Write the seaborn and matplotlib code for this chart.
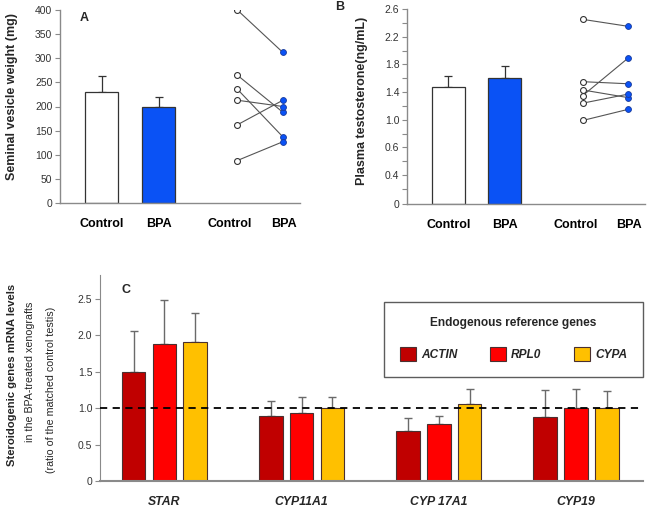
import numpy as np
import pandas as pd
import matplotlib
matplotlib.use("Agg")
import matplotlib.pyplot as plt
from matplotlib.patches import Patch
from matplotlib.ticker import FixedLocator
import seaborn as sns

# ---------------- data ----------------
groups = ["Control", "BPA"]
# Panel A: seminal vesicle weight (mg)
sv_mean = [230, 200]
sv_err = [33, 19]
sv_ctrl = [400, 265, 236, 213, 162, 88]
sv_bpa = [312, 188, 137, 200, 213, 127]
# Panel B: plasma testosterone (ng/mL)
te_mean = [1.47, 1.61]
te_err = [0.16, 0.17]
te_ctrl = [2.45, 1.55, 1.43, 1.35, 1.24, 0.99]
te_bpa = [2.35, 1.52, 1.32, 1.89, 1.37, 1.15]
te_tick_labels = ["0", "0.4", "0.6", "1.0", "1.4", "1.8", "2.2", "2.6"]
# Panel C: steroidogenic genes mRNA ratio
genes = ["STAR", "CYP11A1", "CYP 17A1", "CYP19"]
refs = ["ACTIN", "RPL0", "CYPA"]
c_actin = [1.50, 0.89, 0.69, 0.88]
c_rpl0 = [1.88, 0.93, 0.78, 1.00]
c_cypa = [1.91, 1.00, 1.06, 1.00]
e_actin = [0.56, 0.21, 0.18, 0.37]
e_rpl0 = [0.61, 0.22, 0.11, 0.26]
e_cypa = [0.40, 0.15, 0.20, 0.24]
ref_colors = ["#C00000", "#FF0000", "#FFC000"]
blue = "#0A52F5"

# ---------------- style ----------------
sns.set_style("white")
plt.rcParams["font.family"] = ["Liberation Sans", "DejaVu Sans"]
tick_col = "#333333"
spine_col = "#8a8a8a"

fig = plt.figure(figsize=(6.5, 5.09), dpi=100)
axA = fig.add_axes([60/650, 1-203/509, 240/650, 193/509])
axB = fig.add_axes([407/650, 1-204/509, 238/650, 195/509])
axC = fig.add_axes([100/650, 1-481/509, 543/650, 206/509])

bar_pos = [0.0, 1.0]
pair_pos = [2.38, 3.18]
label_pos = [0.0, 1.0, 2.25, 3.2]


def paired_panel(ax, means, errs, ctrl, bpa):
    dfb = pd.DataFrame({"x": bar_pos, "y": means, "g": groups})
    sns.barplot(data=dfb, x="x", y="y", hue="g", native_scale=True,
                palette={"Control": "white", "BPA": blue}, width=0.58,
                saturation=1, edgecolor="#333333", linewidth=0.9,
                legend=False, ax=ax, errorbar=None, zorder=2)
    ax.errorbar(bar_pos, means, yerr=[np.zeros(len(means)), errs], fmt="none",
                ecolor="#333333", elinewidth=0.9, capsize=3, capthick=0.9,
                zorder=1)
    n = len(ctrl)
    dfp = pd.DataFrame({
        "x": [pair_pos[0]] * n + [pair_pos[1]] * n,
        "y": list(ctrl) + list(bpa),
        "pair": list(range(n)) * 2,
        "g": ["Control"] * n + ["BPA"] * n,
    })
    sns.lineplot(data=dfp, x="x", y="y", units="pair", estimator=None,
                 color="#555555", linewidth=0.8, ax=ax, zorder=3)
    sns.scatterplot(data=dfp[dfp.g == "Control"], x="x", y="y", color="white",
                    edgecolor="#333333", linewidth=0.8, s=18, ax=ax, zorder=4)
    sns.scatterplot(data=dfp[dfp.g == "BPA"], x="x", y="y", color=blue,
                    edgecolor="#1a3a9a", linewidth=0.6, s=18, ax=ax, zorder=4)
    ax.set_xlim(-0.73, 3.48)
    ax.set_xticks(label_pos)
    ax.set_xticklabels(groups + groups, fontsize=9, fontweight="bold",
                       color="black")
    ax.tick_params(axis="x", length=0, pad=11)
    ax.tick_params(axis="y", direction="out", length=3.5, width=0.8,
                   color=spine_col, labelsize=7.5, labelcolor=tick_col, pad=2,
                   left=True)
    ax.tick_params(axis="y", which="minor", direction="out", length=3.5,
                   width=0.8, color=spine_col, left=True)
    for s in ["top", "right"]:
        ax.spines[s].set_visible(False)
    for s in ["left", "bottom"]:
        ax.spines[s].set_color(spine_col)
        ax.spines[s].set_linewidth(1.0)
    ax.set_xlabel("")
    ax.set_facecolor("white")


# Panel A
paired_panel(axA, sv_mean, sv_err, sv_ctrl, sv_bpa)
axA.set_ylim(0, 400)
axA.set_yticks(np.arange(0, 401, 50))
axA.set_ylabel("Seminal vesicle weight (mg)", fontsize=9, fontweight="bold")
axA.yaxis.set_label_coords(-0.175, 0.55)
axA.text(0.08, 0.96, "A", transform=axA.transAxes, fontsize=9,
         fontweight="bold", va="center", ha="left")

# Panel B (axis bottom is a broken "0" below 0.2)
b_bottom = -0.217
paired_panel(axB, te_mean, te_err, te_ctrl, te_bpa)
for p in axB.patches:
    top = p.get_y() + p.get_height()
    p.set_y(b_bottom)
    p.set_height(top - b_bottom)
axB.set_ylim(b_bottom, 2.6)
major = [b_bottom, 0.2, 0.6, 1.0, 1.4, 1.8, 2.2, 2.6]
axB.set_yticks(major)
axB.set_yticklabels(te_tick_labels)
axB.yaxis.set_minor_locator(FixedLocator([0.0, 0.4, 0.8, 1.2, 1.6, 2.0, 2.4]))
axB.set_ylabel("Plasma testosterone(ng/mL)", fontsize=9, fontweight="bold")
axB.yaxis.set_label_coords(-0.164, 0.53)
fig.text(335/650, 1-7/509, "B", fontsize=9, fontweight="bold", va="center",
         ha="left")

# Panel C
vals = [c_actin, c_rpl0, c_cypa]
errs = [e_actin, e_rpl0, e_cypa]
dfc = pd.DataFrame({
    "gene": [g for r in refs for g in genes],
    "ref": [r for r in refs for g in genes],
    "val": [v for row in vals for v in row],
})
sns.barplot(data=dfc, x="gene", y="val", hue="ref", order=genes,
            hue_order=refs, palette=ref_colors, width=0.675, gap=0.23,
            saturation=1, edgecolor="#4a3030", linewidth=0.8, errorbar=None,
            ax=axC, zorder=2)
slot = 0.675 / 3
for j in range(3):
    xs = np.arange(len(genes)) + (j - 1) * slot
    axC.errorbar(xs, vals[j], yerr=[np.zeros(len(genes)), errs[j]],
                 fmt="none", ecolor="#6a6a6a", elinewidth=1.0, capsize=3,
                 capthick=1.0, zorder=1)
axC.axhline(1.0, color="black", linestyle=(0, (4, 3)), linewidth=1.3,
            zorder=3)
axC.set_xlim(-0.47, 3.49)
axC.set_ylim(0, 2.83)
axC.set_yticks([0, 0.5, 1.0, 1.5, 2.0, 2.5])
axC.set_yticklabels(["0", "0.5", "1.0", "1.5", "2.0", "2.5"])
axC.set_xticks(range(len(genes)))
axC.set_xticklabels(genes, fontsize=8.8, fontweight="bold", style="italic")
axC.tick_params(axis="x", length=0, pad=11)
axC.tick_params(axis="y", direction="out", length=3.5, width=0.8,
                color=spine_col, labelsize=7.5, labelcolor=tick_col, pad=2,
                left=True)
for s in ["top", "right"]:
    axC.spines[s].set_visible(False)
axC.spines["left"].set_color(spine_col)
axC.spines["bottom"].set_color(spine_col)
axC.spines["bottom"].set_linewidth(1.5)
axC.set_xlabel("")
axC.set_ylabel("")
axC.text(0.04, 0.925, "C", transform=axC.transAxes, fontsize=9,
         fontweight="bold", va="center", ha="left")

handles = [Patch(facecolor=c, edgecolor="#4a3030", linewidth=0.8)
           for c in ref_colors]
leg = axC.legend(handles, refs, ncol=3, loc="upper right",
                 bbox_to_anchor=(1.0, 0.87), frameon=True, fancybox=False,
                 edgecolor="#333333", title="Endogenous reference genes",
                 prop={"size": 8.6, "weight": "bold", "style": "italic"},
                 title_fontproperties={"size": 8.6, "weight": "bold"},
                 handlelength=1.35, handleheight=1.35, handletextpad=0.45,
                 columnspacing=2.7, borderpad=1.3, labelspacing=0.6,
                 borderaxespad=0)
leg.get_frame().set_linewidth(1.0)
leg._legend_box.sep = 13

fig.text(12/650, 1-375/509, "Steroidogenic genes mRNA levels", rotation=90,
         fontsize=8.1, fontweight="bold", ha="center", va="center")
fig.text(30/650, 1-372/509, "in the BPA-treated xenografts", rotation=90,
         fontsize=7.7, ha="center", va="center")
fig.text(51/650, 1-390/509, "(ratio of the matched control testis)",
         rotation=90, fontsize=7.7, ha="center", va="center")

fig.savefig("out.png", dpi=100, facecolor="white")
